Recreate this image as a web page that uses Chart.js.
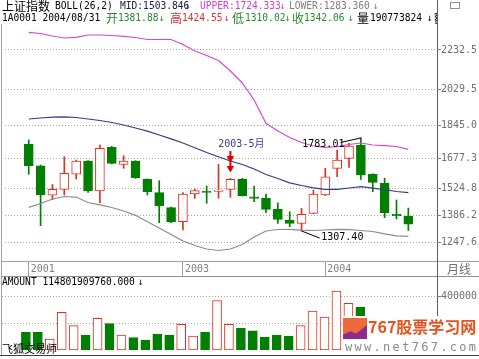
<!DOCTYPE html>
<html>
<head>
<meta charset="utf-8">
<script src="https://cdn.jsdelivr.net/npm/chart.js@4.4.1/dist/chart.umd.min.js"></script>
<style>
  html, body { margin: 0; padding: 0; background: #fff; }
  #wrap { position: relative; width: 479px; height: 359px; overflow: hidden; background: #fff; }
  canvas { position: absolute; left: 0; }
  #price { top: 0; }
  #vol { top: 276px; }
  #hdr { position: absolute; left: 0; top: 0; width: 437px; height: 359px; overflow: hidden; }
  .t { position: absolute; white-space: nowrap; font: 9.6px/12px 'DejaVu Sans Mono', monospace; }
  .c { font: 12px/12px 'Noto Sans CJK SC', sans-serif; }
  .ln { position: absolute; }
  #wm { position: absolute; left: 343px; top: 316px; width: 136px; height: 39px; background: #fff; }
  #logo { position: absolute; left: 0; top: 2px; width: 24px; height: 21px; background: #ee6a3c; overflow: hidden; }
  #logo div { position: absolute; left: 0; bottom: 0; width: 24px; height: 14px; background: #8e2c8e;
              clip-path: polygon(0 100%, 0 70%, 30% 45%, 55% 60%, 100% 0, 100% 100%); }
  #wmt { position: absolute; left: 25px; top: 0; color: #e8501e; font: bold 16px/20px 'Noto Sans CJK SC', sans-serif; }
  #wmu { position: absolute; left: 2px; top: 24px; color: #8a8a8a; letter-spacing: 2.3px;
         font: 12px/14px 'DejaVu Sans Mono', monospace; }
</style>
</head>
<body>
<div id="wrap">
  <canvas id="price" width="479" height="277"></canvas>
  <canvas id="vol" width="479" height="80"></canvas>
  <div class="ln" style="left:1px;top:24px;width:1px;height:332px;background:#a0a0a0"></div>
  <div class="ln" style="left:1px;top:261px;width:478px;height:1px;background:#a0a0a0"></div>
  <div class="ln" style="left:1px;top:276px;width:478px;height:1px;background:#909090"></div>
  <div class="ln" style="left:437px;top:0;width:1px;height:356px;background:#606060"></div>
  <div id="hdr"></div>
  <div class="t c" style="left:447px;top:263px;color:#707070">月线</div>
  <div class="ln" style="left:450px;top:2px;width:8px;height:5px;border:1px solid #909090"></div>
  <div id="wm">
    <div id="logo"><div></div></div>
    <div id="wmt">767股票学习网</div>
    <div id="wmu">www.net767.com</div>
  </div>
  <div class="ln" style="left:0;top:355px;width:479px;height:1px;background:#404040"></div>
</div>
<script>
// monthly candles, Dec 2001 .. Aug 2004
const months = ['2001-12', '2002-01', '2002-02', '2002-03', '2002-04', '2002-05', '2002-06', '2002-07',
  '2002-08', '2002-09', '2002-10', '2002-11', '2002-12', '2003-01', '2003-02', '2003-03', '2003-04',
  '2003-05', '2003-06', '2003-07', '2003-08', '2003-09', '2003-10', '2003-11', '2003-12', '2004-01',
  '2004-02', '2004-03', '2004-04', '2004-05', '2004-06', '2004-07', '2004-08'];

const openP = [1750.5, 1641.1, 1491.0, 1520.5, 1598.0, 1665.0, 1512.0, 1735.2, 1648.0, 1665.0, 1571.6,
  1503.2, 1426.5, 1355.0, 1496.5, 1510.0, 1510.0, 1520.5, 1571.6, 1482.7, 1474.5, 1418.3, 1363.6,
  1346.8, 1397.9, 1491.4, 1627.9, 1679.0, 1746.9, 1597.2, 1551.2, 1394.3, 1381.88];
const highP = [1772.5, 1645.0, 1545.0, 1687.0, 1670.0, 1667.0, 1746.9, 1740.0, 1692.3, 1667.0, 1574.0,
  1564.5, 1430.0, 1503.2, 1520.5, 1537.4, 1648.3, 1576.7, 1576.7, 1537.4, 1496.5, 1452.0, 1406.0,
  1423.4, 1516.9, 1627.9, 1721.4, 1755.6, 1783.01, 1600.0, 1576.7, 1465.8, 1424.55];
const lowP = [1597.2, 1334.5, 1467.0, 1491.4, 1573.0, 1505.0, 1452.0, 1650.0, 1627.9, 1576.7, 1491.4,
  1349.8, 1349.8, 1312.5, 1474.5, 1449.0, 1474.5, 1479.6, 1486.0, 1457.2, 1400.9, 1346.8, 1329.4,
  1307.4, 1395.0, 1488.0, 1584.9, 1633.0, 1571.6, 1508.3, 1375.4, 1368.7, 1310.02];
const closeP = [1641.1, 1491.4, 1520.0, 1602.3, 1665.0, 1512.0, 1730.1, 1653.4, 1665.0, 1580.0, 1508.3,
  1435.2, 1354.9, 1496.5, 1513.4, 1505.0, 1516.9, 1571.6, 1487.8, 1474.5, 1418.3, 1367.2, 1346.8,
  1392.8, 1496.5, 1584.9, 1670.3, 1741.8, 1593.6, 1556.3, 1400.9, 1385.6, 1342.06];

// BOLL(26,2)
const bollUpper = [2323.0, 2316.8, 2304.0, 2293.8, 2297.4, 2309.2, 2309.2, 2306.6, 2302.5, 2296.4, 2286.1,
  2286.1, 2286.1, 2260.6, 2227.4, 2204.4, 2178.8, 2125.2, 2063.8, 1976.9, 1857.9, 1818.5, 1785.3,
  1759.7, 1741.8, 1735.2, 1738.3, 1749.5, 1757.2, 1746.9, 1743.4, 1739.3, 1724.33];
const bollMid = [1879.8, 1884.9, 1889.0, 1891.1, 1887.5, 1879.8, 1872.2, 1861.9, 1849.2, 1833.8, 1817.5,
  1798.1, 1778.6, 1757.2, 1733.1, 1708.6, 1687.1, 1665.2, 1647.3, 1624.3, 1596.2, 1575.7, 1553.7,
  1539.9, 1528.2, 1520.5, 1520.5, 1527.2, 1533.8, 1526.1, 1518.5, 1509.3, 1503.85];
const bollLower = [1428.5, 1448.0, 1471.0, 1483.7, 1481.0, 1453.1, 1441.3, 1427.5, 1409.6, 1387.6, 1354.9,
  1322.7, 1289.5, 1256.3, 1233.3, 1215.4, 1207.7, 1215.4, 1238.4, 1276.7, 1307.4, 1315.1, 1316.1,
  1311.5, 1310.0, 1312.5, 1316.1, 1314.0, 1310.0, 1304.8, 1293.1, 1282.9, 1280.0];

// AMOUNT, million yuan (last bars sit under the watermark)
const amount = [132800, 132800, 82600, 282900, 182400, 112600, 237900, 197400, 112600, 92300, 75000,
  120100, 112600, 192900, 105100, 132800, 370000, 192900, 162900, 144800, 97600, 112600, 105100,
  182400, 292700, 247700, 442800, 350500, 320500, 190000, 210000, 120000, 114802];

const priceTicks = [1247.6, 1386.2, 1524.8, 1677.3, 1845.0, 2029.5, 2232.5];
const amountTicks = [200000, 400000];
const yearTickIdx = [0, 13, 25];
const yearTickText = ['2001', '2003', '2004'];

// marks on the chart
const arrowStem = [{x: 17, y: 1716.3}, {x: 17, y: 1629.4}];
const arrowHeads = [{x: 17, y: 1679.5}, {x: 17, y: 1628.4}];
const leaderHigh = [{x: 26.28, y: 1759.7}, {x: 28, y: 1783.01}];
const leaderLow = [{x: 23, y: 1307.4}, {x: 24.52, y: 1271.6}];
const notes = [
  {x: 15.98, y: 1752.0, text: '2003-5月', color: '#3c3c8c'},
  {x: 23.06, y: 1750.5, text: '1783.01', color: '#000'},
  {x: 24.66, y: 1274.2, text: '1307.40', color: '#000'}
];

const RED = '#e0301e', GREEN = '#007f00';
const isUp = closeP.map((c, i) => c >= openP[i]);
const idx = months.map((m, i) => i);
const asLine = arr => arr.map((v, i) => ({x: i, y: v}));
const tickFont = {family: 'DejaVu Sans Mono', size: 10};

// header / captions
const GT = '#2a8a2a', RT = '#e03030';
const texts = [
  ['上证指数', 2, 0, '#000', 'c'], ['BOLL(26,2)', 55, 0, '#000'], ['MID:1503.846', 120, 0, '#202040'],
  ['↓', 185, 0, '#303080'], ['UPPER:1724.333', 200, 0, '#d040d0'], ['↓', 280, 0, '#d040d0'],
  ['LOWER:1283.360', 289, 0, '#808080'], ['↓', 373, 0, '#808080'],
  ['1A0001 2004/08/31', 2, 12, '#000'], ['开', 106, 12, GT, 'c'], ['1381.88', 118, 12, GT], ['↓', 159, 12, GT],
  ['高', 170, 12, RT, 'c'], ['1424.55', 182, 12, RT], ['↓', 224, 12, RT],
  ['低', 232, 12, GT, 'c'], ['1310.02', 245, 12, GT], ['↓', 285, 12, GT],
  ['收', 292, 12, GT, 'c'], ['1342.06', 304, 12, GT], ['↓', 348, 12, GT],
  ['量', 357, 12, '#000', 'c'], ['190773824', 370, 12, '#000'], ['↓', 427, 12, '#000'], ['额', 434, 12, '#000', 'c'],
  ['AMOUNT 114801909760.000', 2, 276, '#000'], ['↓', 138, 276, '#000']
];
const hdr = document.getElementById('hdr');
texts.forEach(([s, x, y, col, cls]) => {
  const d = document.createElement('div');
  d.className = 't' + (cls ? ' ' + cls : '');
  d.textContent = s;
  d.style.left = x + 'px';
  d.style.top = y + 'px';
  d.style.color = col;
  hdr.appendChild(d);
});
const foot = document.createElement('div');
foot.className = 't';
foot.textContent = '飞狐交易师';
foot.style.cssText = "left:2px;top:343px;color:#000;font:11px/11px 'Noto Sans CJK SC',sans-serif";
hdr.appendChild(foot);

const notePlugin = {
  id: 'notes',
  afterDatasetsDraw(chart) {
    const ctx = chart.ctx, xs = chart.scales.x, ys = chart.scales.y;
    ctx.save();
    ctx.font = "10px 'DejaVu Sans Mono', 'Noto Sans CJK SC'";
    ctx.textBaseline = 'middle';
    ctx.textAlign = 'left';
    notes.forEach(n => {
      ctx.fillStyle = n.color;
      ctx.fillText(n.text, xs.getPixelForValue(n.x), ys.getPixelForValue(n.y));
    });
    ctx.restore();
  }
};

const noPad = s => { s.paddingTop = 0; s.paddingBottom = 0; s.paddingLeft = 0; s.paddingRight = 0; };

new Chart(document.getElementById('price'), {
  type: 'bar',
  data: {
    datasets: [
      {
        data: idx.map(i => ({x: i, y: [lowP[i], highP[i]]})),
        backgroundColor: isUp.map(u => u ? RED : GREEN),
        barThickness: 1, grouped: false, order: 5
      },
      {
        data: idx.map(i => ({x: i, y: [openP[i], closeP[i]]})),
        backgroundColor: isUp.map(u => u ? '#fff' : GREEN),
        borderColor: isUp.map(u => u ? RED : GREEN),
        borderWidth: 1, borderSkipped: false, barThickness: 9, grouped: false, order: 4
      },
      {type: 'line', data: asLine(bollUpper), borderColor: '#d24ad2', borderWidth: 1.2, pointRadius: 0, order: 3},
      {type: 'line', data: asLine(bollMid), borderColor: '#3a3a86', borderWidth: 1.2, pointRadius: 0, order: 3},
      {type: 'line', data: asLine(bollLower), borderColor: '#8c8c8c', borderWidth: 1.2, pointRadius: 0, order: 3},
      {type: 'line', data: leaderHigh, borderColor: '#000', borderWidth: 1, pointRadius: 0, order: 1},
      {type: 'line', data: leaderLow, borderColor: '#000', borderWidth: 1, pointRadius: 0, order: 1},
      {type: 'line', data: arrowStem, borderColor: '#e00000', borderWidth: 2, pointRadius: 0, order: 1},
      {type: 'line', data: arrowHeads, showLine: false, pointStyle: 'triangle', rotation: 180,
        pointRadius: 3.5, pointBackgroundColor: '#e00000', pointBorderColor: '#e00000', order: 0}
    ]
  },
  options: {
    responsive: false, animation: false, devicePixelRatio: 1, events: [],
    layout: {padding: {left: 2, top: 22, right: 0, bottom: 1}},
    plugins: {legend: {display: false}, tooltip: {enabled: false}},
    scales: {
      x: {
        type: 'linear', min: -2, max: 34.5, offset: false, bounds: 'data',
        afterBuildTicks: s => { s.ticks = yearTickIdx.map(v => ({value: v})); },
        afterFit: s => { s.height = 15; noPad(s); },
        grid: {drawOnChartArea: false, tickLength: 15, color: '#a0a0a0', offset: false},
        border: {display: false},
        ticks: {
          align: 'start', labelOffset: 2, padding: -13, maxRotation: 0, autoSkip: false,
          color: '#808080', font: tickFont,
          callback: v => yearTickText[yearTickIdx.indexOf(v)]
        }
      },
      y: {
        position: 'right', min: 1154.1, max: 2375.6, bounds: 'data',
        afterBuildTicks: s => { s.ticks = priceTicks.map(v => ({value: v})); },
        afterFit: s => { s.width = 41; noPad(s); },
        grid: {color: '#a8a8a8', tickLength: 3, tickColor: '#808080', tickBorderDash: []},
        border: {display: false, dash: [1, 2]},
        ticks: {padding: 0, color: '#707070', font: tickFont, callback: v => v.toFixed(1)}
      }
    }
  },
  plugins: [notePlugin]
});

new Chart(document.getElementById('vol'), {
  type: 'bar',
  data: {
    datasets: [{
      data: asLine(amount),
      backgroundColor: isUp.map(u => u ? '#fff' : GREEN),
      borderColor: isUp.map(u => u ? RED : GREEN),
      borderWidth: 1, borderSkipped: false, barThickness: 9, grouped: false
    }]
  },
  options: {
    responsive: false, animation: false, devicePixelRatio: 1, events: [],
    layout: {padding: {left: 2, top: 1, right: 0, bottom: 6}},
    plugins: {legend: {display: false}, tooltip: {enabled: false}},
    scales: {
      x: {type: 'linear', min: -2, max: 34.5, offset: false, display: false},
      y: {
        position: 'right', min: 0, max: 547842, bounds: 'data',
        afterBuildTicks: s => { s.ticks = amountTicks.map(v => ({value: v})); },
        afterFit: s => { s.width = 41; noPad(s); },
        grid: {color: '#a8a8a8', tickLength: 3, tickColor: '#808080', tickBorderDash: []},
        border: {display: false, dash: [1, 2]},
        ticks: {padding: 0, color: '#707070', font: tickFont, callback: v => String(v)}
      }
    }
  }
});
</script>
</body>
</html>
